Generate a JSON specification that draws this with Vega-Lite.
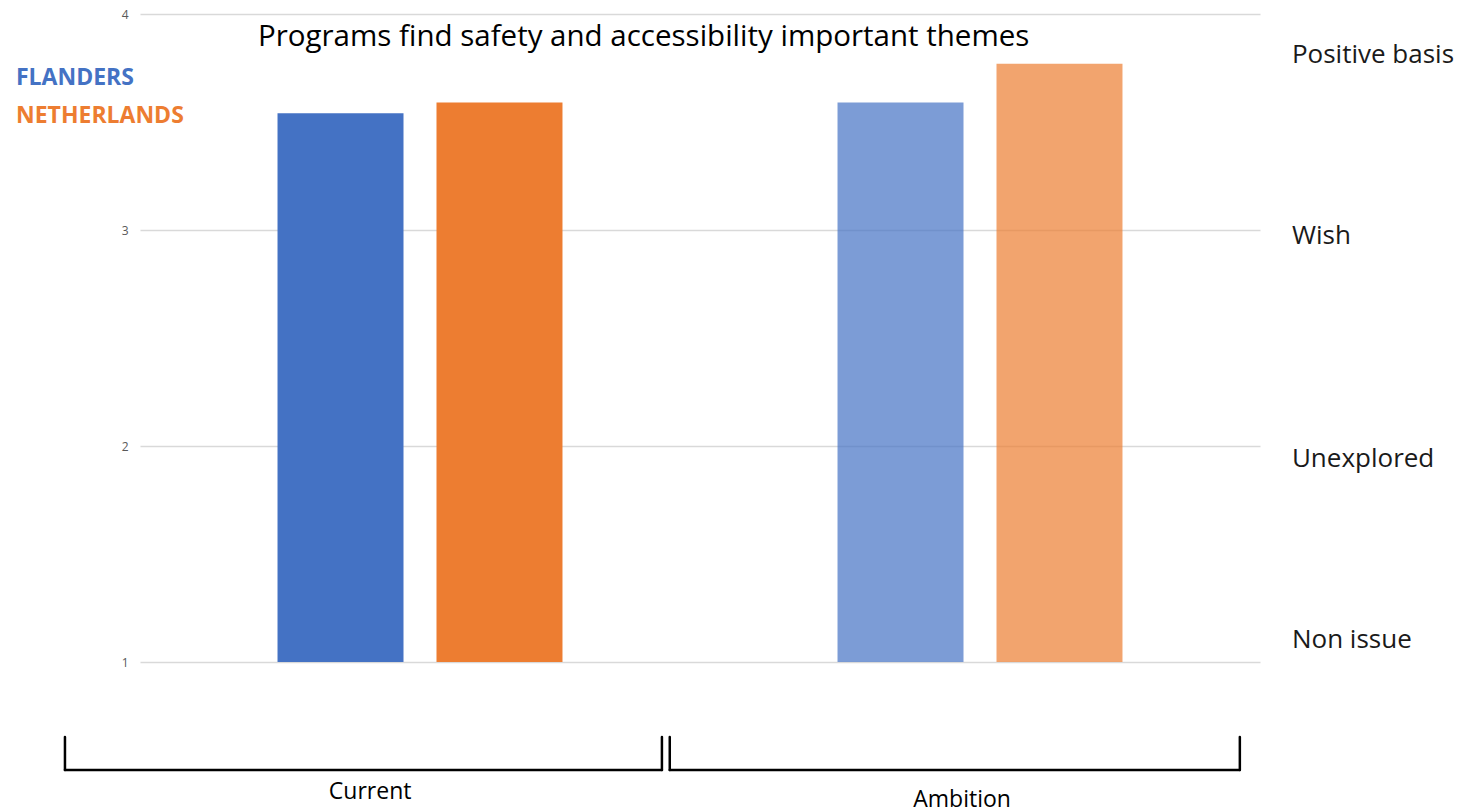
{
  "$schema": "https://vega.github.io/schema/vega-lite/v6.json",
  "width": 1120,
  "height": 648,
  "autosize": {"type": "none"},
  "padding": {"left": 140, "top": 14, "right": 200, "bottom": 146},
  "background": "white",
  "config": {"view": {"stroke": null}, "font": "Open Sans"},
  "title": {
    "text": "Programs find safety and accessibility important themes",
    "anchor": "start",
    "frame": "group",
    "dx": 118,
    "dy": 40,
    "offset": -4,
    "baseline": "top",
    "fontSize": 29.5,
    "fontWeight": "normal",
    "font": "Open Sans",
    "color": "#000000"
  },
  "datasets": {
    "bars": [
      {"phase": "Current", "region": "FLANDERS", "score": 3.54},
      {"phase": "Current", "region": "NETHERLANDS", "score": 3.59},
      {"phase": "Ambition", "region": "FLANDERS", "score": 3.59},
      {"phase": "Ambition", "region": "NETHERLANDS", "score": 3.77}
    ],
    "levels": [
      {"level": "Positive basis", "score": 3.81},
      {"level": "Wish", "score": 2.97},
      {"level": "Unexplored", "score": 1.94},
      {"level": "Non issue", "score": 1.1}
    ],
    "groups": [
      {"phase": "Current", "start": -0.134, "end": 0.932, "mid": 0.411, "labelY": 0.398},
      {"phase": "Ambition", "start": 0.946, "end": 1.964, "mid": 1.468, "labelY": 0.36}
    ]
  },
  "layer": [
    {
      "data": {"name": "bars"},
      "mark": {"type": "bar"},
      "encoding": {
        "x": {"field": "phase", "type": "nominal", "sort": ["Current", "Ambition"], "scale": {"paddingInner": 0, "paddingOuter": 0}, "axis": null},
        "xOffset": {"field": "region", "type": "nominal", "sort": ["FLANDERS", "NETHERLANDS"], "scale": {"paddingInner": 0.2075, "paddingOuter": 0.865}},
        "y": {
          "field": "score", "type": "quantitative",
          "scale": {"domain": [1, 4], "nice": false, "zero": false},
          "axis": {"values": [1, 2, 3, 4], "format": "d", "domain": false, "ticks": false, "title": null, "labelColor": "#595959", "labelFontSize": 12, "labelPadding": 12, "gridColor": "#d9d9d9", "gridWidth": 1.3, "labelFont": "Open Sans"}
        },
        "y2": {"datum": 1},
        "color": {
          "field": "region", "type": "nominal",
          "scale": {"domain": ["FLANDERS", "NETHERLANDS"], "range": ["#4472c4", "#ed7d31"]},
          "legend": {
            "title": null, "orient": "none", "legendX": -147, "legendY": 52,
            "symbolSize": 0, "symbolStrokeWidth": 0, "symbolOpacity": 0, "labelOffset": 0, "labelLimit": 400,
            "labelFontSize": 23, "labelFontWeight": "bold", "labelFont": "Open Sans", "rowPadding": 14, "padding": 0,
            "encode": {"labels": {"update": {"fill": {"scale": "color", "field": "value"}}}}
          }
        },
        "opacity": {"field": "phase", "type": "nominal", "scale": {"domain": ["Current", "Ambition"], "range": [1, 0.7]}, "legend": null}
      }
    },
    {
      "layer": [
        {
          "data": {"name": "groups"},
          "mark": {"type": "rule", "color": "black", "strokeWidth": 2.5, "strokeCap": "round"},
          "encoding": {
            "x": {"field": "start", "type": "quantitative", "scale": {"domain": [0, 2], "nice": false, "zero": false}, "axis": null},
            "y": {"datum": 0.653, "scale": {"domain": [1, 4]}},
            "y2": {"datum": 0.5}
          }
        },
        {
          "data": {"name": "groups"},
          "mark": {"type": "rule", "color": "black", "strokeWidth": 2.5, "strokeCap": "round"},
          "encoding": {
            "x": {"field": "end", "type": "quantitative", "scale": {"domain": [0, 2], "nice": false, "zero": false}, "axis": null},
            "y": {"datum": 0.653, "scale": {"domain": [1, 4]}},
            "y2": {"datum": 0.5}
          }
        },
        {
          "data": {"name": "groups"},
          "mark": {"type": "rule", "color": "black", "strokeWidth": 2.5, "strokeCap": "round"},
          "encoding": {
            "x": {"field": "start", "type": "quantitative", "scale": {"domain": [0, 2], "nice": false, "zero": false}, "axis": null},
            "x2": {"field": "end"},
            "y": {"datum": 0.5, "scale": {"domain": [1, 4]}}
          }
        },
        {
          "data": {"name": "groups"},
          "mark": {"type": "text", "fontSize": 23, "font": "Open Sans", "color": "#000000", "baseline": "middle", "align": "center"},
          "encoding": {
            "x": {"field": "mid", "type": "quantitative", "scale": {"domain": [0, 2], "nice": false, "zero": false}, "axis": null},
            "y": {"field": "labelY", "type": "quantitative", "scale": {"domain": [1, 4]}},
            "text": {"field": "phase"}
          }
        },
        {
          "data": {"name": "levels"},
          "mark": {"type": "text", "fontSize": 26, "font": "Open Sans", "color": "#1a1a1a", "baseline": "middle", "align": "left"},
          "encoding": {
            "x": {"datum": 2.057, "scale": {"domain": [0, 2], "nice": false, "zero": false}, "axis": null},
            "y": {"field": "score", "type": "quantitative", "scale": {"domain": [1, 4]}},
            "text": {"field": "level"}
          }
        }
      ]
    }
  ],
  "resolve": {"scale": {"x": "independent"}}
}
